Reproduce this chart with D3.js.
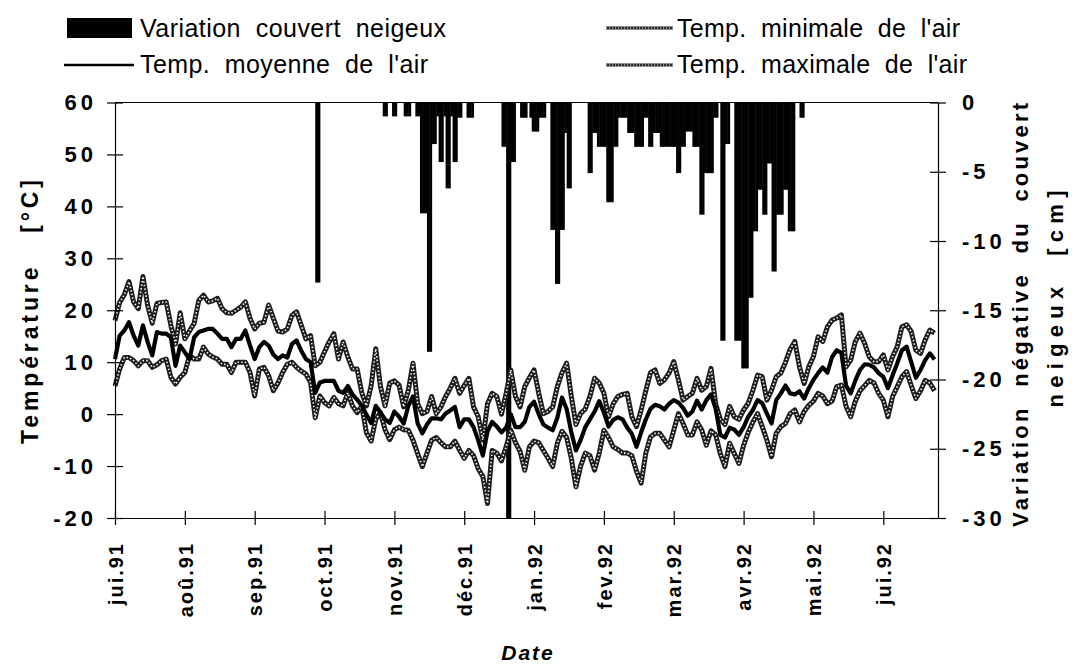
<!DOCTYPE html>
<html><head><meta charset="utf-8">
<script src="https://cdn.jsdelivr.net/npm/d3@7"></script>
<style>
body{margin:0;background:#fff}
svg text{font-family:"Liberation Sans",Arial,Helvetica,sans-serif;fill:#000}
</style>
</head><body>
<svg id="chart" width="1072" height="666"></svg>
<script>
// ---------- DATA ----------
// temperature sampled every 2nd day from the start of the record (day 0 = mid July 1991)
const dayGrid = d3.range(0, 353, 2);

const tempMax = [
 18, 21.5, 23, 25.5, 21.6, 20.3, 26.5, 21, 17.5, 21.3,
 21.5, 21.6, 17.1, 13.5, 19.5, 14.5, 16, 17.5, 21.9, 22.9,
 21.6, 21.8, 22.3, 20.3, 19.5, 19.4, 20, 20.6, 21.6, 18.4,
 16.4, 17.5, 17.7, 21, 18.5, 16, 15.8, 16.4, 19, 19.7,
 17.1, 14.5, 15.1, 9.3, 10, 12, 13.9, 15.5, 10.6, 13.9,
 11, 8.7, 8.7, 4.1, 1.6, 5.4, 12.6, 5.4, 1.6, 6,
 6.4, 5.6, 1.4, 4.6, 9.8, 2, 0.1, 0.5, 3.4, 0.1,
 1.4, 3.4, 5, 6.9, 4, 5.5, 6.9, 1.4, -0.5, -5,
 2, 4, 3.4, 0, 4, 8.5, 3.4, 1.4, 5.3, 7,
 8.5, 4, 0.1, 0.5, 1.4, 5.3, 8, 9.8, 3.4, -2,
 0.1, 1, 3.4, 6.9, 6, 4, -0.5, 2, 3.4, 3.8,
 4, -0.5, -2.4, 0.8, 4.5, 8, 8.5, 5.9, 6.6, 7.9,
 10.1, 6.6, 2.7, 3.4, 4, 6.9, 4.6, 5.3, 8.8, 2,
 -1, -2, 1.5, -0.5, -1, 0.8, 2.1, 4.6, 7.5, 7.2,
 2.7, 4.6, 7.2, 7.9, 10, 12.5, 14, 9.1, 5.9, 9.1,
 11.1, 14.9, 14, 16.8, 18.1, 18.5, 19.1, 9.1, 10.4, 14,
 15.6, 13.6, 11, 10.1, 10.1, 11.4, 8.5, 11.1, 13, 16.8,
 17.2, 15.9, 12.3, 11.7, 14.3, 16.2, 15.6
];

const tempMin = [
 5.4, 8.7, 10.9, 10.9, 10.3, 9.3, 10.3, 10.3, 9, 9.5,
 10.3, 10.6, 7.1, 5.8, 7.1, 8, 11.3, 10.6, 10.6, 12.9,
 11.6, 11, 10.6, 9.6, 9.6, 8, 10, 10, 10, 8,
 3.5, 8.7, 9, 7.4, 4.5, 6, 8, 9.6, 10, 9,
 8.3, 7.7, 6.1, -0.7, 3.5, 2.2, 1.6, 3.2, 2, 1.6,
 4.1, 1.6, 0.3, 1.6, -3.6, -5.2, -1, 0.3, -3, -4.9,
 -3, -2.5, -3, -3.1, -5, -7.6, -10.1, -7.5, -5, -4.5,
 -5.5, -6.3, -6.3, -5.2, -6.9, -8.5, -7, -8, -10.5, -12,
 -17.2, -7, -7.5, -9, -6.3, -3.1, -5.5, -7.2, -10.8, -6.3,
 -5.2, -5.5, -7, -8.5, -10.1, -5.6, -3.3, -4.5, -8.5, -14,
 -10, -7.5, -8, -10.8, -7.5, -3.1, -4.5, -6.3, -6.8, -7.5,
 -7.5, -8, -11, -13.3, -7.5, -4.4, -3.7, -3.7, -5, -6.3,
 -3.1, 0.1, -1.8, -4, -4, -1.5, -3, -6, -3.2, -4,
 -7.6, -10.1, -5.6, -7.6, -9.5, -6, -3.5, -1.5, 0.1, -2.4,
 -5, -8.2, -3.7, -2.4, -1.8, 0.1, 0.8, -1.5, 0.5, 1.7,
 2.5, 4, 3.5, 2, 2.5, 5.3, 5.6, 1.5, -0.5, 2.5,
 4.5, 5.5, 6.5, 6, 4, 2.7, -0.5, 3.4, 5.3, 7.2,
 8.2, 5.5, 3, 4.5, 6.5, 6, 4.5
];

const tempMean = [
 10.6, 15.1, 16.1, 17.7, 15.1, 13.2, 17.1, 13.9, 11.3, 15.8,
 15.5, 15.5, 14.8, 9.3, 13.2, 11.9, 10.6, 14.8, 15.8, 16.1,
 16.4, 16.4, 15.5, 14.5, 14.5, 12.9, 14.5, 14.5, 16.1, 13.2,
 10.6, 12.9, 13.9, 13.2, 11.5, 10.6, 11.3, 10.9, 13.5, 14.2,
 12.2, 10.6, 10, 4.1, 6.1, 6.4, 6.4, 6.4, 4.5, 4.1,
 5.4, 3.8, 2.8, 1.6, -0.1, -1.7, 1.6, 0.3, -1, -1.7,
 0.5, -0.5, -1.8, 1.6, 3.4, -1.8, -3.7, -2, -0.8, -0.8,
 -1, 0.1, 0.7, 1.4, -2.5, -1, -1, -2.5, -5, -8,
 -3.3, -1.5, -2.4, -3.5, -2.6, 0, -2.5, -2.5, -1.5, 1.4,
 2.4, 0, -2, -2.6, -3.1, -0.7, 3.2, 1, -3.5, -7,
 -5, -2.5, -1, 0.5, 2.5, 0.3, -2.4, -1.1, -0.6, -1,
 -2.6, -3.8, -6.3, -3.5, -1, 1, 1.8, 1.5, 0.9, 2,
 2.7, 2.2, 1.2, -0.3, 0.5, 2.6, 0.9, 2.7, 3.8, 1,
 -4, -4.5, -2.6, -3, -4, -2.5, -0.5, 0.8, 2.7, 2.1,
 0.1, -1.8, 2.7, 4, 5.5, 4, 3.8, 4.4, 3, 5,
 6.6, 7.9, 9, 8, 11, 12.3, 11.8, 5.5, 4, 6.5,
 8.5, 9.6, 9.5, 9, 7.9, 7.2, 5, 7.5, 9.8, 12.3,
 13, 10, 7, 8.5, 10.4, 11.7, 10.5
];

// negative snow-cover variation (cm), by day index
const snowDays = [
 86, 87,
 115, 116, 119, 120, 124, 125, 126, 129, 130,
 131, 132, 133, 134, 135, 136, 137, 138, 139, 140, 141, 142, 143, 144, 145, 146, 147, 148,
 151, 152, 153,
 166, 167, 168, 169, 170, 171,
 174, 175, 176, 178, 179, 180, 181, 182, 183, 184,
 187, 188, 189, 190, 191, 192, 193, 194, 195,
 203, 204, 205, 206, 207, 208, 209, 210, 211, 212, 213, 214, 215, 216, 217, 218, 219,
 220, 221, 222, 223, 224, 225, 226, 227, 228, 229, 230, 231, 232, 233,
 234, 235, 236, 237, 238, 239, 240, 241, 242, 243, 244, 245, 246, 247, 248, 249, 250,
 251, 252, 253, 254, 255, 256, 257, 258,
 260, 261, 262, 263,
 266, 267, 268, 269, 270, 271, 272, 273, 274, 275, 276, 277, 278, 279, 280, 281,
 282, 283, 284, 285, 286, 287, 288, 289, 290, 291,
 294, 295
];
const snowDepth = [
 -13, -13,
 -1, -1, -1, -1, -1, -1, -1, -1, -1,
 -8, -8, -8, -18, -18, -3, -3, -1, -4.3, -4.3, -1, -6.2, -6.2, -1, -4.3, -4.3, -1.1, -1.1,
 -1.1, -1.1, -1.1,
 -3.2, -3.2, -30, -30, -4.3, -4.3,
 -1.1, -1.1, -1.1, -1.1, -2.1, -2.1, -2.1, -1.1, -1.1, -1.1,
 -9.2, -9.2, -13.1, -13.1, -9.2, -9.2, -2.2, -6.2, -6.2,
 -5.1, -5.1, -2.2, -2.2, -3.2, -3.2, -3.2, -3.2, -7.2, -7.2, -7.2, -3.2, -3.2, -1.1, -1.1, -1.1, -1.1,
 -2.2, -2.2, -2.2, -3.2, -3.2, -3.2, -3.2, -1.1, -1.1, -3.2, -3.2, -2.2, -2.2, -2.2,
 -3.2, -3.2, -3.2, -3.2, -3.2, -3.2, -3.2, -5.1, -5.1, -3.2, -3.2, -2.1, -2.1, -2.1, -3.2, -3.2, -3.2,
 -8.1, -8.1, -5.1, -5.1, -5.1, -5.1, -1.1, -1.1,
 -17.2, -17.2, -3, -3,
 -17.2, -17.2, -17.2, -19.2, -19.2, -19.2, -14.1, -14.1, -9.3, -9.3, -6.3, -6.3, -8.1, -8.1, -4.4, -4.4,
 -12.2, -12.2, -8.1, -8.1, -8.1, -6.3, -6.3, -9.3, -9.3, -9.3,
 -1.1, -1.1
];

const monthTicks  = [0, 30, 60, 90, 120, 150, 180, 210, 240, 270, 300, 330];
const monthLabels = ["jui.91","aoû.91","sep.91","oct.91","nov.91","déc.91",
                     "jan.92","fev.92","mar.92","avr.92","mai.92","jui.92"];
const tempTicks = [60, 50, 40, 30, 20, 10, 0, -10, -20];
const snowTicks = [0, -5, -10, -15, -20, -25, -30];

// ---------- CHART ----------
const svg = d3.select("#chart");
const L = 115, R = 938, T = 102.5, B = 518;

const x  = d3.scaleLinear().domain([0, 353.5]).range([L, R]);
const yT = d3.scaleLinear().domain([-20, 60]).range([B, T]);
const yS = d3.scaleLinear().domain([-30, 0]).range([B, T]);

const fmt = v => v < 0 ? "-" + Math.abs(v) : String(v);

// snow bars
const snow = snowDays.map((d, i) => ({d, v: snowDepth[i]}));
const dayW = x(1) - x(0);
svg.append("g").selectAll("rect").data(snow).join("rect")
  .attr("x", o => x(o.d))
  .attr("width", dayW + 0.5)
  .attr("y", yS(0))
  .attr("height", o => yS(o.v) - yS(0))
  .attr("fill", "#000");

// temperature lines
const mk = arr => dayGrid.map((d, i) => ({d, v: arr[i]}));
const line = d3.line().x(p => x(p.d)).y(p => yT(p.v));
function patterned(arr, g) {
  g.append("path").datum(mk(arr)).attr("d", line)
    .attr("fill", "none").attr("stroke", "#1e1e1e").attr("stroke-width", 5)
    .attr("stroke-linejoin", "round");
  g.append("path").datum(mk(arr)).attr("d", line)
    .attr("fill", "none").attr("stroke", "#fff").attr("stroke-width", 1.6)
    .attr("stroke-dasharray", "1.4 2.2").attr("stroke-linejoin", "round");
}
const lines = svg.append("g");
patterned(tempMax, lines);
patterned(tempMin, lines);
lines.append("path").datum(mk(tempMean)).attr("d", line)
  .attr("fill", "none").attr("stroke", "#000").attr("stroke-width", 4.2)
  .attr("stroke-linejoin", "round");

// frame top
svg.append("line").attr("x1", L).attr("x2", R).attr("y1", T).attr("y2", T)
  .attr("stroke", "#000").attr("stroke-width", 1.2);

const tickFont = (g, size, ls) => g.selectAll("text")
  .style("font-size", size + "px").style("font-weight", "bold").style("letter-spacing", ls + "px");

// left axis
const gL = svg.append("g").attr("transform", `translate(${L},0)`)
  .call(d3.axisLeft(yT).tickValues(tempTicks).tickFormat(fmt).tickSize(8).tickSizeOuter(0).tickPadding(10));
gL.selectAll(".tick line").attr("x1", 8).attr("stroke-width", 1.2);
gL.select(".domain").attr("stroke-width", 1.2);
tickFont(gL, 22, 4);

// right axis
const gR = svg.append("g").attr("transform", `translate(${R},0)`)
  .call(d3.axisRight(yS).tickValues(snowTicks).tickFormat(fmt).tickSize(8).tickSizeOuter(0).tickPadding(16));
gR.selectAll(".tick line").attr("x1", -8).attr("stroke-width", 1.2);
gR.select(".domain").attr("stroke-width", 1.2);
tickFont(gR, 22, 4);

// bottom axis
const gB = svg.append("g").attr("transform", `translate(0,${B})`)
  .call(d3.axisBottom(x).tickValues(monthTicks).tickFormat((d, i) => monthLabels[i]).tickSize(7).tickSizeOuter(0));
gB.selectAll(".tick line").attr("y1", -7).attr("stroke-width", 1.2);
gB.select(".domain").attr("stroke-width", 1.2);
gB.selectAll(".tick text")
  .attr("transform", "translate(0,24) rotate(-90)")
  .attr("text-anchor", "end").attr("x", 0).attr("y", 0).attr("dy", "0.36em");
tickFont(gB, 20, 2);

// axis titles
svg.append("text").attr("transform", "translate(38,312) rotate(-90)")
  .attr("text-anchor", "middle").style("white-space", "pre")
  .style("font-size", "23px").style("font-weight", "bold")
  .attr("textLength", 264).attr("lengthAdjust", "spacing")
  .text("Température   [°C]");
svg.append("text").attr("transform", "translate(1028,315) rotate(-90)")
  .attr("text-anchor", "middle").style("white-space", "pre")
  .style("font-size", "22px").style("font-weight", "bold")
  .attr("textLength", 424).attr("lengthAdjust", "spacing")
  .text("Variation  négative  du  couvert");
svg.append("text").attr("transform", "translate(1063,299) rotate(-90)")
  .attr("text-anchor", "middle").style("white-space", "pre")
  .style("font-size", "22px").style("font-weight", "bold")
  .attr("textLength", 217).attr("lengthAdjust", "spacing")
  .text("neigeux  [cm]");
svg.append("text").attr("x", 528).attr("y", 660)
  .attr("text-anchor", "middle")
  .style("font-size", "21px").style("font-weight", "bold").style("font-style", "italic")
  .style("letter-spacing", "2px")
  .text("Date");

// legend
const leg = svg.append("g");
leg.append("rect").attr("x", 67).attr("y", 18).attr("width", 65).attr("height", 20).attr("fill", "#000");
leg.append("text").attr("x", 140).attr("y", 37).style("font-size", "25px").style("white-space", "pre")
  .attr("textLength", 306).attr("lengthAdjust", "spacing").text("Variation  couvert  neigeux");
leg.append("line").attr("x1", 64).attr("x2", 134).attr("y1", 65).attr("y2", 65)
  .attr("stroke", "#000").attr("stroke-width", 2.4);
leg.append("text").attr("x", 140).attr("y", 73).style("font-size", "25px").style("white-space", "pre")
  .attr("textLength", 288).attr("lengthAdjust", "spacing").text("Temp.  moyenne  de  l'air");

function legPattern(y) {
  leg.append("line").attr("x1", 606).attr("x2", 673).attr("y1", y).attr("y2", y)
    .attr("stroke", "#1e1e1e").attr("stroke-width", 3);
  leg.append("line").attr("x1", 606).attr("x2", 673).attr("y1", y).attr("y2", y)
    .attr("stroke", "#fff").attr("stroke-width", 1).attr("stroke-dasharray", "1.2 1.8");
}
legPattern(28);
leg.append("text").attr("x", 677).attr("y", 37).style("font-size", "25px").style("white-space", "pre")
  .attr("textLength", 283).attr("lengthAdjust", "spacing").text("Temp.  minimale  de  l'air");
legPattern(65);
leg.append("text").attr("x", 677).attr("y", 73).style("font-size", "25px").style("white-space", "pre")
  .attr("textLength", 290).attr("lengthAdjust", "spacing").text("Temp.  maximale  de  l'air");
</script>
</body></html>
